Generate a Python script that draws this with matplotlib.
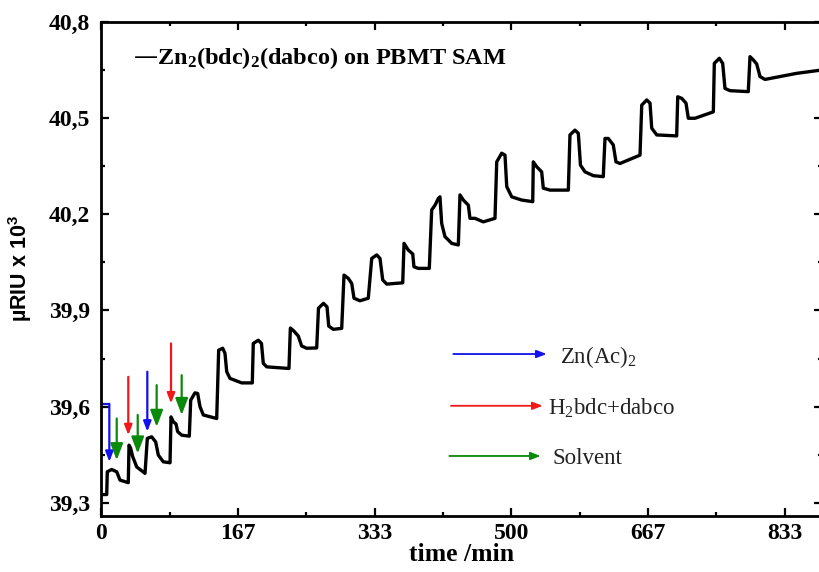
import matplotlib
matplotlib.use("Agg")
import matplotlib.pyplot as plt
from matplotlib.ticker import FixedLocator

plt.rcParams['mathtext.default'] = 'regular'

# sensor trace
time_min = [0.0, 6.6, 7.3, 12.7, 18.8, 22.8, 32.9, 33.8, 35.8, 38.3, 43.2, 53.3,
            56.1, 61.4, 66.3, 69.5, 75.6, 83.8, 85.0, 87.8, 91.1, 93.1, 98.0, 107.3,
            109.0, 114.2, 117.5, 120.3, 124.4, 140.7, 143.1, 148.0, 150.8, 152.9,
            156.9, 171.2, 184.1, 185.3, 191.4, 195.3, 197.5, 201.7, 228.8, 230.5,
            234.3, 240.2, 244.3, 250.4, 262.6, 264.8, 270.9, 275.2, 277.3, 282.9,
            293.1, 295.9, 301.1, 305.3, 308.1, 315.4, 325.5, 329.7, 335.8, 339.8,
            343.1, 348.0, 367.5, 369.1, 374.3, 379.7, 381.2, 386.5, 399.9, 402.8,
            406.9, 410.9, 412.9, 415.0, 419.0, 427.2, 435.3, 437.3, 441.4, 447.5,
            449.5, 455.6, 465.7, 480.0, 482.1, 488.2, 492.2, 494.3, 500.4, 512.6,
            526.0, 526.7, 530.8, 536.9, 538.9, 547.1, 569.4, 571.4, 577.5, 581.6,
            584.2, 589.7, 599.9, 612.0, 614.1, 618.1, 624.2, 627.5, 632.4, 656.8,
            658.9, 665.0, 669.0, 671.1, 677.2, 701.5, 702.8, 707.7, 712.9, 715.7,
            723.9, 746.2, 747.4, 753.5, 757.6, 760.4, 766.5, 788.8, 790.9, 794.9,
            799.1, 803.1, 809.2, 827.5, 847.8, 880.0]
riu = [39.326, 39.326, 39.397, 39.404, 39.397, 39.371, 39.363, 39.480, 39.470, 39.444,
       39.412, 39.392, 39.501, 39.506, 39.490, 39.449, 39.428, 39.425, 39.568, 39.553,
       39.546, 39.522, 39.511, 39.508, 39.620, 39.643, 39.641, 39.600, 39.574, 39.563,
       39.776, 39.782, 39.766, 39.709, 39.688, 39.674, 39.674, 39.797, 39.807, 39.797,
       39.735, 39.724, 39.719, 39.845, 39.837, 39.820, 39.789, 39.782, 39.783, 39.907,
       39.922, 39.911, 39.851, 39.841, 39.844, 40.010, 40.000, 39.984, 39.938, 39.930,
       39.938, 40.062, 40.073, 40.062, 39.995, 39.982, 39.986, 40.109, 40.088, 40.076,
       40.036, 40.031, 40.031, 40.213, 40.228, 40.249, 40.254, 40.171, 40.130, 40.109,
       40.104, 40.260, 40.244, 40.228, 40.187, 40.187, 40.176, 40.187, 40.363, 40.390,
       40.384, 40.286, 40.254, 40.244, 40.239, 40.363, 40.348, 40.332, 40.281, 40.275,
       40.275, 40.447, 40.462, 40.452, 40.353, 40.332, 40.320, 40.317, 40.436, 40.436,
       40.416, 40.363, 40.358, 40.384, 40.540, 40.556, 40.546, 40.468, 40.447, 40.444,
       40.566, 40.561, 40.546, 40.499, 40.499, 40.519, 40.670, 40.686, 40.670, 40.592,
       40.585, 40.582, 40.691, 40.681, 40.668, 40.629, 40.620, 40.629, 40.639, 40.650]

# injection arrows: time, start level, tip level, reagent
arrow_t = [9.8, 18.8, 32.9, 44.4, 56.1, 67.5, 85.0, 98.0]
arrow_top = [39.608, 39.563, 39.693, 39.574, 39.709, 39.667, 39.797, 39.698]
arrow_tip = [39.428, 39.433, 39.511, 39.454, 39.522, 39.537, 39.610, 39.574]
arrow_kind = ['zn', 'sol', 'h2', 'sol', 'zn', 'sol', 'h2', 'sol']

kind_color = {'zn': '#1010f0', 'h2': '#f01818', 'sol': '#0a8a0a'}
legend_kinds = ['zn', 'h2', 'sol']
legend_labels = ['Zn(Ac)$_2$', 'H$_2$bdc+dabco', 'Solvent']

xticks = [0, 166.7, 333.3, 500, 666.7, 833.3]
xtick_labels = ['0', '167', '333', '500', '667', '833']
yticks = [39.3, 39.6, 39.9, 40.2, 40.5, 40.8]
ytick_labels = ['39,3', '39,6', '39,9', '40,2', '40,5', '40,8']

serif = 'Liberation Serif'

fig = plt.figure(figsize=(8.19, 5.72), dpi=100)
ax = fig.add_axes([101.3 / 819, 1 - 515.7 / 572, (822 - 101.3) / 819, 494 / 572])

ax.plot(time_min, riu, color='black', lw=2.4, solid_joinstyle='round',
        solid_capstyle='round')

ax.set_xlim(0, (822 - 101.3) / 0.8202)
ax.set_ylim(39.26, 40.8)

# arrows marking the injections
for t, top, tip, k in zip(arrow_t, arrow_top, arrow_tip, arrow_kind):
    if k == 'sol':
        style = '-|>,head_length=10,head_width=3.8'
    else:
        style = '-|>,head_length=6,head_width=2.3'
    ax.annotate('', xy=(t, tip), xytext=(t, top),
                arrowprops=dict(arrowstyle=style, color=kind_color[k], lw=1.6,
                                mutation_scale=1, shrinkA=0, shrinkB=0))
# first blue arrow starts with a short step from the axis
ax.plot([0.5, arrow_t[0]], [arrow_top[0], arrow_top[0]], color=kind_color['zn'], lw=1.6)

# arrow legend
leg_y = [0.3273, 0.2225, 0.1209]
leg_x0 = [0.4884, 0.4852, 0.4829]
leg_x1 = [0.618, 0.6125, 0.6097]
leg_tx = [0.6365, 0.6202, 0.6263]
for k, lab, y, x0, x1, tx in zip(legend_kinds, legend_labels, leg_y, leg_x0, leg_x1, leg_tx):
    ax.annotate('', xy=(x1, y), xytext=(x0, y), xycoords='axes fraction',
                textcoords='axes fraction',
                arrowprops=dict(arrowstyle='-|>,head_length=6,head_width=2.3',
                                color=kind_color[k], lw=1.3, mutation_scale=1,
                                shrinkA=0, shrinkB=0))
    ax.text(tx, y, lab, transform=ax.transAxes, family=serif, fontsize=16.5,
            color='#222222', va='center_baseline', ha='left')

ax.text(0.044, 0.9265, '—Zn$_2$(bdc)$_2$(dabco) on PBMT SAM', transform=ax.transAxes,
        family=serif, fontweight='bold', fontsize=17.5, va='center', ha='left')

# axes styling
ax.xaxis.set_major_locator(FixedLocator(xticks))
ax.set_xticklabels(xtick_labels)
ax.xaxis.set_minor_locator(FixedLocator([83.3, 250, 416.7, 583.3, 750, 916.7]))
ax.yaxis.set_major_locator(FixedLocator(yticks))
ax.set_yticklabels(ytick_labels)
ax.yaxis.set_minor_locator(FixedLocator([39.45, 39.75, 40.05, 40.35, 40.65]))

ax.tick_params(which='both', direction='in', top=True, right=True, width=1.6)
ax.tick_params(which='major', length=6)
ax.tick_params(which='minor', length=3)
ax.tick_params(axis='y', pad=8)
ax.tick_params(axis='x', pad=5)
for lab in ax.get_xticklabels() + ax.get_yticklabels():
    lab.set_family(serif)
    lab.set_fontweight('bold')
    lab.set_fontsize(17)
for sp in ax.spines.values():
    sp.set_linewidth(2.0)

ax.set_xlabel('time /min', family=serif, fontweight='bold', fontsize=18.5)
ax.xaxis.set_label_coords(0.5, -0.056)
ax.set_ylabel('µRIU x 10$^3$', family='Liberation Sans', fontweight='bold', fontsize=15.5)
ax.yaxis.set_label_coords(-0.094, 0.5)

fig.savefig('out.png', dpi=100)
